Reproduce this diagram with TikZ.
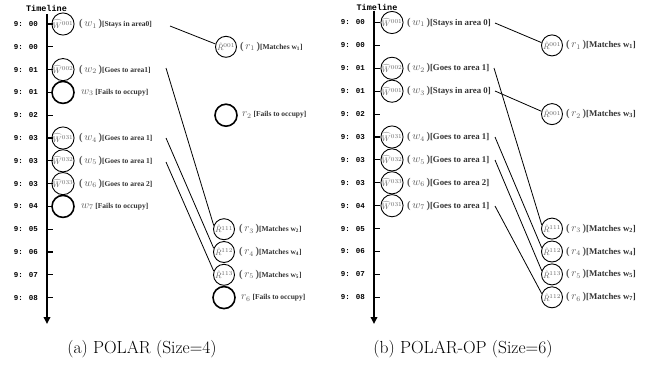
\documentclass[tikz,border=0pt]{standalone}
\usepackage{fontspec}
\usepackage{amsmath}
\usetikzlibrary{arrows.meta}
\newfontfamily\monofont{Liberation Mono}
\newfontfamily\labfont{Liberation Serif}
\newcommand\wcirc[1]{\textcolor{black!60}{$\widehat{W}^{#1}$}}
\newcommand\rcirc[1]{\textcolor{black!60}{$\hat{R}^{#1}$}}
\newcommand\wlab[2]{{\color{black!65}\fontsize{10.5}{10}\selectfont(\,$#1$\,)}\textcolor{black!80}{[#2]}}
\newcommand\flab[2]{{\color{black!65}\fontsize{10.5}{10}\selectfont$#1$}\ \textcolor{black!80}{[#2]}}
\begin{document}
\begin{tikzpicture}[x=1pt,y=-1pt,
  axisline/.style={line width=1.8pt,-{Triangle[length=7pt,width=6.5pt]}},
  tickmark/.style={line width=1.1pt},
  tlhead/.style={inner sep=0pt,font=\monofont\bfseries\fontsize{8.5}{8}\selectfont},
  timelab/.style={anchor=east,inner sep=0pt,font=\monofont\bfseries\fontsize{7.5}{7}\selectfont},
  wnode/.style={circle,draw,line width=0.9pt,minimum size=21pt,inner sep=0pt,font=\fontsize{8.5}{8}\selectfont},
  enode/.style={circle,draw,line width=1.6pt,minimum size=22pt,inner sep=0pt},
  lablA/.style={anchor=west,inner sep=0pt,font=\labfont\bfseries\fontsize{7.5}{8}\selectfont},
  lablB/.style={anchor=west,inner sep=0pt,font=\labfont\bfseries\fontsize{8.8}{9}\selectfont},
  conn/.style={line width=0.8pt},
  captext/.style={inner sep=0pt,font=\fontsize{17.5}{20}\selectfont}
]
\useasboundingbox (0,0) rectangle (651,373);

% ---------------- left panel (a) ----------------
\node[tlhead] (ltl) at (46.5,8) {Timeline};
\draw[axisline] (47,14) -- (47,324);
\foreach \t [count=\i from 0] in {00,00,01,01,02,03,03,03,04,05,06,07,08}{
  \draw[tickmark] (47,{24+22.8*\i}) -- (53,{24+22.8*\i});
  \node[timelab] (lt\i) at (38,{24+22.8*\i}) {9: \t};
}
% left column
\node[wnode] (lw1) at (63,24) {\wcirc{001}};
\node[lablA] (llw1) at (79,24) {\wlab{w_1}{Stays in area0}};
\node[wnode] (lw2) at (63,69.6) {\wcirc{002}};
\node[lablA] (llw2) at (79,69.6) {\wlab{w_2}{Goes to area1}};
\node[enode] (lw3) at (63,92.4) {};
\node[lablA] (llw3) at (81,92.4) {\flab{w_3}{Fails to occupy}};
\node[wnode] (lw4) at (63,138) {\wcirc{031}};
\node[lablA] (llw4) at (79,138) {\wlab{w_4}{Goes to area 1}};
\node[wnode] (lw5) at (63,160.8) {\wcirc{032}};
\node[lablA] (llw5) at (79,160.8) {\wlab{w_5}{Goes to area 1}};
\node[wnode] (lw6) at (63,183.6) {\wcirc{033}};
\node[lablA] (llw6) at (79,183.6) {\wlab{w_6}{Goes to area 2}};
\node[enode] (lw7) at (63,206.4) {};
\node[lablA] (llw7) at (81,206.4) {\flab{w_7}{Fails to occupy}};
% right column
\node[wnode] (lr1) at (226,46.8) {\rcirc{001}};
\node[lablA] (llr1) at (240,46.8) {\wlab{r_1}{Matches w\textsubscript{1}}};
\node[enode] (lr2) at (226,115.2) {};
\node[lablA] (llr2) at (242,115.2) {\flab{r_2}{Fails to occupy}};
\node[wnode] (lr3) at (224,229.2) {\rcirc{111}};
\node[lablA] (llr3) at (239,229.2) {\wlab{r_3}{Matches w\textsubscript{2}}};
\node[wnode] (lr4) at (224,252) {\rcirc{112}};
\node[lablA] (llr4) at (239,252) {\wlab{r_4}{Matches w\textsubscript{4}}};
\node[wnode] (lr5) at (224,274.8) {\rcirc{113}};
\node[lablA] (llr5) at (239,274.8) {\wlab{r_5}{Matches w\textsubscript{5}}};
\node[enode] (lr6) at (224,297.6) {};
\node[lablA] (llr6) at (241,297.6) {\flab{r_6}{Fails to occupy}};
% connectors
\coordinate (ls1) at (170,26);
\coordinate (ls2) at (166,68);
\coordinate (ls4) at (166,138);
\coordinate (ls5) at (166,162);
\draw[conn] (ls1) -- (lr1.165);
\draw[conn] (ls2) -- (lr3.160);
\draw[conn] (ls4) -- (lr4.160);
\draw[conn] (ls5) -- (lr5.160);

% ---------------- right panel (b) ----------------
\node[tlhead] (rtl) at (377,7) {Timeline};
\draw[axisline] (374,11) -- (374,324);
\foreach \t [count=\i from 0] in {00,00,01,01,02,03,03,03,04,05,06,07,08}{
  \draw[tickmark] (374,{22.5+22.9*\i}) -- (380,{22.5+22.9*\i});
  \node[timelab] (rt\i) at (365,{22.5+22.9*\i}) {9: \t};
}
\node[wnode] (rw1) at (392,22.5) {\wcirc{001}};
\node[lablB] (rlw1) at (407,22.5) {\wlab{w_1}{Stays in area 0}};
\node[wnode] (rw2) at (392,68.3) {\wcirc{002}};
\node[lablB] (rlw2) at (407,68.3) {\wlab{w_2}{Goes to area 1}};
\node[wnode] (rw3) at (392,91.2) {\wcirc{001}};
\node[lablB] (rlw3) at (407,91.2) {\wlab{w_3}{Stays in area 0}};
\node[wnode] (rw4) at (392,137) {\wcirc{031}};
\node[lablB] (rlw4) at (407,137) {\wlab{w_4}{Goes to area 1}};
\node[wnode] (rw5) at (392,159.9) {\wcirc{032}};
\node[lablB] (rlw5) at (407,159.9) {\wlab{w_5}{Goes to area 1}};
\node[wnode] (rw6) at (392,182.8) {\wcirc{033}};
\node[lablB] (rlw6) at (407,182.8) {\wlab{w_6}{Goes to area 2}};
\node[wnode] (rw7) at (392,205.7) {\wcirc{031}};
\node[lablB] (rlw7) at (407,205.7) {\wlab{w_7}{Goes to area 1}};
\node[wnode] (rr1) at (552,45.4) {\rcirc{001}};
\node[lablB] (rlr1) at (566,45.4) {\wlab{r_1}{Matches w\textsubscript{1}}};
\node[wnode] (rr2) at (552,114.1) {\rcirc{001}};
\node[lablB] (rlr2) at (566,114.1) {\wlab{r_2}{Matches w\textsubscript{3}}};
\node[wnode] (rr3) at (552,228.6) {\rcirc{111}};
\node[lablB] (rlr3) at (566,228.6) {\wlab{r_3}{Matches w\textsubscript{2}}};
\node[wnode] (rr4) at (552,251.5) {\rcirc{112}};
\node[lablB] (rlr4) at (566,251.5) {\wlab{r_4}{Matches w\textsubscript{4}}};
\node[wnode] (rr5) at (552,274.4) {\rcirc{113}};
\node[lablB] (rlr5) at (566,274.4) {\wlab{r_5}{Matches w\textsubscript{5}}};
\node[wnode] (rr6) at (552,297.3) {\rcirc{112}};
\node[lablB] (rlr6) at (566,297.3) {\wlab{r_6}{Matches w\textsubscript{7}}};
\coordinate (rs1) at (495,23);
\coordinate (rs2) at (494,68);
\coordinate (rs3) at (495,91);
\coordinate (rs4) at (495,137);
\coordinate (rs5) at (495,160);
\coordinate (rs7) at (495,206);
\draw[conn] (rs1) -- (rr1.165);
\draw[conn] (rs2) -- (rr3.160);
\draw[conn] (rs3) -- (rr2.165);
\draw[conn] (rs4) -- (rr4.160);
\draw[conn] (rs5) -- (rr5.160);
\draw[conn] (rs7) -- (rr6.160);

% captions
\node[captext] (capa) at (142,349) {(a) POLAR (Size=4)};
\node[captext] (capb) at (463,349) {(b) POLAR-OP (Size=6)};
\end{tikzpicture}
\end{document}
